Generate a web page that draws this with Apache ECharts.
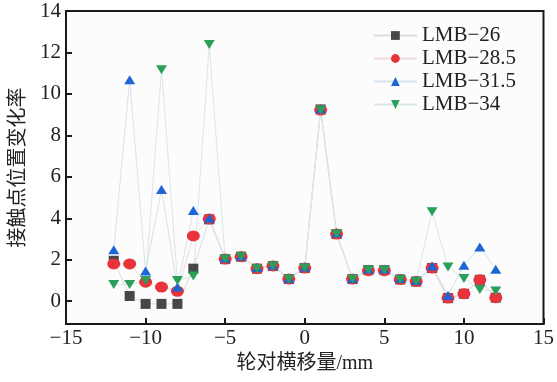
<!DOCTYPE html>
<html>
<head>
<meta charset="utf-8">
<script src="https://cdn.jsdelivr.net/npm/echarts@6/dist/echarts.min.js"></script>
<style>
  html, body { margin: 0; padding: 0; background: #fff; }
  #main { width: 557px; height: 382px; }
</style>
</head>
<body>
<div id="main"></div>
<script>
// 轮对横移量 (mm)
var xValues = [-12, -11, -10, -9, -8, -7, -6, -5, -4, -3, -2, -1, 0, 1, 2, 3, 4, 5, 6, 7, 8, 9, 10, 11, 12];
var lmb26 = [1.95, 0.25, -0.13, -0.13, -0.13, 1.57, 3.95, 2.03, 2.15, 1.57, 1.7, 1.07, 1.6, 9.25, 3.24, 1.07, 1.5, 1.5, 1.05, 0.95, 1.6, 0.15, 0.36, 1.03, 0.17];
var lmb285 = [1.8, 1.8, 0.92, 0.68, 0.48, 3.15, 3.97, 2.03, 2.15, 1.57, 1.7, 1.07, 1.6, 9.22, 3.24, 1.07, 1.47, 1.47, 1.05, 0.95, 1.6, 0.15, 0.36, 1.03, 0.17];
var lmb315 = [2.48, 10.68, 1.46, 5.39, 0.68, 4.37, 4.0, 2.08, 2.18, 1.62, 1.75, 1.1, 1.65, 9.28, 3.3, 1.1, 1.55, 1.55, 1.1, 1.0, 1.7, 0.28, 1.73, 2.62, 1.54];
var lmb34 = [0.8, 0.8, 1.0, 11.17, 1.0, 1.21, 12.38, 2.03, 2.15, 1.57, 1.7, 1.07, 1.6, 9.22, 3.24, 1.07, 1.5, 1.5, 1.05, 0.95, 4.32, 1.65, 1.09, 0.57, 0.49];
var yTicks = [0, 2, 4, 6, 8, 10, 12, 14];

var serif = 'Liberation Serif, Noto Sans CJK SC, serif';

function pairs(arr) {
    return arr.map(function (v, i) { return [xValues[i], v]; });
}

var myChart = echarts.init(document.getElementById('main'));

myChart.setOption({
    animation: false,
    textStyle: { fontFamily: serif },
    grid: {
        left: 66, right: 8, top: 11, bottom: 58,
        show: true,
        borderColor: '#1a1a1a',
        borderWidth: 2,
        backgroundColor: '#fcfcfc'
    },
    legend: {
        right: 36, top: 20,
        orient: 'vertical',
        itemGap: 2,
        itemWidth: 43,
        itemHeight: 11,
        textStyle: { fontSize: 21, color: '#222', fontFamily: serif },
        data: ['LMB\u221226', 'LMB\u221228.5', 'LMB\u221231.5', 'LMB\u221234']
    },
    xAxis: {
        type: 'value',
        min: -15, max: 15, interval: 5,
        name: '轮对横移量/mm',
        nameLocation: 'middle',
        nameGap: 30,
        nameTextStyle: { fontSize: 20, color: '#222', fontFamily: serif },
        axisLine: { onZero: false, lineStyle: { color: '#1a1a1a', width: 2 } },
        axisTick: { inside: true, length: 6, lineStyle: { color: '#1a1a1a', width: 2 } },
        axisLabel: {
            fontSize: 21, color: '#222', margin: 4,
            formatter: function (v) { return v < 0 ? '\u2212' + (-v) : String(v); }
        },
        splitLine: { show: false }
    },
    yAxis: {
        type: 'value',
        min: -1.1, max: 14,
        name: '接触点位置变化率',
        nameLocation: 'middle',
        nameGap: 33,
        nameTextStyle: { fontSize: 20, color: '#222', fontFamily: serif },
        axisLine: { onZero: false, lineStyle: { color: '#1a1a1a', width: 2 } },
        axisTick: { inside: true, length: 6, customValues: yTicks, lineStyle: { color: '#1a1a1a', width: 2 } },
        axisLabel: { fontSize: 21, color: '#222', margin: 5, customValues: yTicks },
        splitLine: { show: false }
    },
    series: [
        {
            name: 'LMB\u221226', type: 'line',
            symbol: 'rect', symbolSize: 10,
            itemStyle: { color: '#474747' },
            lineStyle: { color: '#d8dcde', width: 1 },
            data: pairs(lmb26)
        },
        {
            name: 'LMB\u221228.5', type: 'line',
            symbol: 'circle', symbolSize: [13, 11],
            itemStyle: { color: '#e8333b' },
            lineStyle: { color: '#f1d9db', width: 1 },
            data: pairs(lmb285)
        },
        {
            name: 'LMB\u221231.5', type: 'line',
            symbol: 'triangle', symbolSize: [11, 9],
            itemStyle: { color: '#1b66d6' },
            lineStyle: { color: '#d6e2ee', width: 1 },
            data: pairs(lmb315)
        },
        {
            name: 'LMB\u221234', type: 'line',
            symbol: 'triangle', symbolRotate: 180, symbolSize: [11, 9],
            itemStyle: { color: '#2b9e5a' },
            lineStyle: { color: '#d9e8e6', width: 1 },
            data: pairs(lmb34)
        }
    ]
});

window.addEventListener('resize', function () {
    myChart.resize();
});
</script>
</body>
</html>
